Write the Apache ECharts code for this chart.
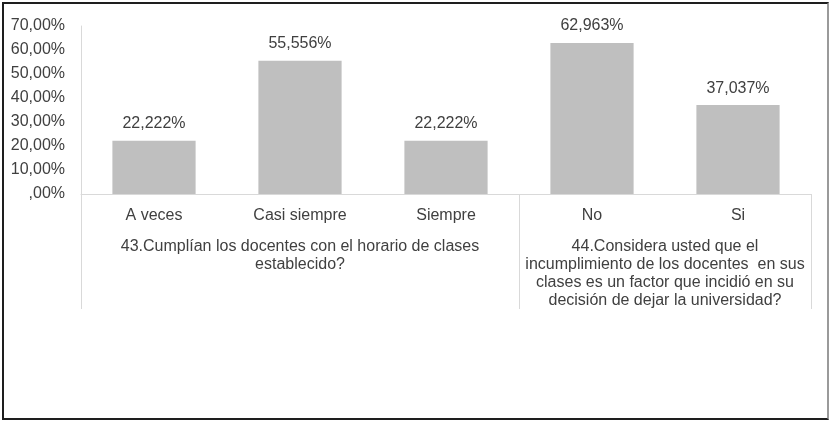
<!DOCTYPE html>
<html>
<head>
<meta charset="utf-8">
<script src="https://cdn.jsdelivr.net/npm/echarts@6/dist/echarts.min.js"></script>
<style>
  html, body { margin: 0; padding: 0; background: #fff; }
  #chart { width: 831px; height: 422px; }
  #frame { position: absolute; left: 2px; top: 2px; width: 823px; height: 414px;
           border: 2px solid #1e1e1e; border-right-color: #9a9a9a; pointer-events: none; }
</style>
</head>
<body>
<div id="chart"></div>
<div id="frame"></div>
<script>
// ---- data ----
const categories = ['A veces', 'Casi siempre', 'Siempre', 'No', 'Si'];
const values = [22.222, 55.556, 22.222, 62.963, 37.037];
const yTickLabels = [',00%', '10,00%', '20,00%', '30,00%', '40,00%', '50,00%', '60,00%', '70,00%'];
const groupLabels = [
  '43.Cumplían los docentes con el horario de clases\nestablecido?',
  '44.Considera usted que el\nincumplimiento de los docentes  en sus\nclases es un factor que incidió en su\ndecisión de dejar la universidad?'
];
const groupSizes = [3, 2];

// group boundaries / centres in category units
const groupStarts = [];
const groupCenters = [];
let acc = 0;
groupSizes.forEach(function (n) { groupStarts.push(acc); groupCenters.push(acc + n / 2); acc += n; });

const textColor = '#404040';
const font = 'Liberation Sans, Arial, sans-serif';
const fs = 16;

const chart = echarts.init(document.getElementById('chart'));
chart.setOption({
  animation: false,
  grid: { left: 81, right: 20, top: 26, bottom: 228, containLabel: false },
  xAxis: [
    {
      type: 'category',
      data: categories,
      position: 'bottom',
      axisLine: { show: true, onZero: false, lineStyle: { color: '#d9d9d9', width: 1 } },
      axisTick: {
        show: true,
        alignWithLabel: false,
        length: 115,
        lineStyle: { color: '#d9d9d9', width: 1 },
        interval: function (index) { return groupStarts.indexOf(index) >= 0; }
      },
      axisLabel: { interval: 0, margin: 14, color: textColor, fontSize: fs, fontFamily: font }
    },
    {
      type: 'value',
      position: 'bottom',
      min: 0,
      max: categories.length,
      interval: 0.5,
      axisLine: { show: false },
      axisTick: { show: false },
      splitLine: { show: false },
      axisLabel: {
        margin: 44,
        color: textColor,
        fontSize: fs,
        lineHeight: 18,
        fontFamily: font,
        align: 'center',
        showMinLabel: true,
        showMaxLabel: true,
        formatter: function (v) {
          const i = groupCenters.indexOf(v);
          return i >= 0 ? groupLabels[i] : '';
        }
      }
    }
  ],
  yAxis: {
    type: 'value',
    min: 0,
    max: 70,
    interval: 10,
    axisLine: { show: true, onZero: false, lineStyle: { color: '#d9d9d9', width: 1 } },
    axisTick: { show: false },
    splitLine: { show: false },
    axisLabel: {
      margin: 16,
      color: textColor,
      fontSize: fs,
      fontFamily: font,
      formatter: function (v) { return yTickLabels[Math.round(v / 10)]; }
    }
  },
  series: [{
    type: 'bar',
    data: values,
    xAxisIndex: 0,
    yAxisIndex: 0,
    barCategoryGap: '43%',
    itemStyle: { color: '#bfbfbf' },
    label: {
      show: true,
      position: 'top',
      distance: 9,
      color: textColor,
      fontSize: fs,
      fontFamily: font,
      formatter: function (p) { return p.value.toFixed(3).replace('.', ',') + '%'; }
    }
  }]
});
</script>
</body>
</html>
